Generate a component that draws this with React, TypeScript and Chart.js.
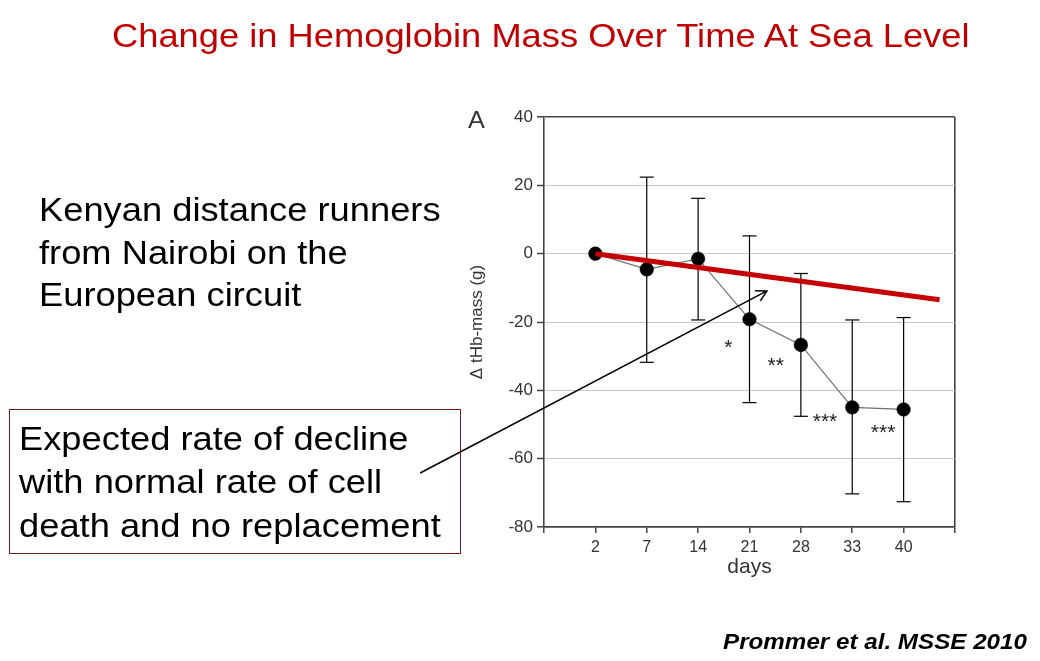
import React, { useEffect, useRef } from 'react';
import { Chart, registerables } from 'chart.js';

Chart.register(...registerables);

// ---- data ----
const dayLabels = ['2', '7', '14', '21', '28', '33', '40'];
const meanChange = [0, -4.6, -1.5, -19.2, -26.7, -45.0, -45.6];
const errUpper: (number | null)[] = [null, 22.4, 16.2, 5.2, -5.8, -19.4, -18.7];
const errLower: (number | null)[] = [null, -31.8, -19.4, -43.6, -47.6, -70.3, -72.6];
const expectedX = [0, 6.7];
const expectedY = [0, -13.5];
const yTicks = [-80, -60, -40, -20, 0, 20, 40];
const starLabels = ['*', '**', '***', '***'];
const starX = [2.59, 3.51, 4.47, 5.6];
const starY = [-25.8, -31.0, -47.5, -50.6];
const arrowX = [-3.41, 3.34];
const arrowY = [-64.2, -10.9];

const FONT = '"Liberation Sans", Arial, Helvetica, sans-serif';
const AXIS = '#444444';

const annotPlugin = {
  id: 'annot',
  afterDraw(chart: any) {
    const { ctx } = chart;
    const xs = chart.scales.x;
    const ys = chart.scales.y;
    ctx.save();
    ctx.fillStyle = '#222';
    ctx.font = `21px ${FONT}`;
    ctx.textAlign = 'center';
    ctx.textBaseline = 'alphabetic';
    starLabels.forEach((s, i) => {
      ctx.fillText(s, xs.getPixelForValue(starX[i]), ys.getPixelForValue(starY[i]) + 12);
    });
    const x0 = xs.getPixelForValue(arrowX[0]);
    const y0 = ys.getPixelForValue(arrowY[0]);
    const x1 = xs.getPixelForValue(arrowX[1]);
    const y1 = ys.getPixelForValue(arrowY[1]);
    ctx.strokeStyle = '#000';
    ctx.lineWidth = 1.5;
    ctx.beginPath();
    ctx.moveTo(x0, y0);
    ctx.lineTo(x1, y1);
    const ang = Math.atan2(y1 - y0, x1 - x0);
    const len = 12;
    const spread = 0.5;
    ctx.moveTo(x1 - len * Math.cos(ang - spread), y1 - len * Math.sin(ang - spread));
    ctx.lineTo(x1, y1);
    ctx.lineTo(x1 - len * Math.cos(ang + spread), y1 - len * Math.sin(ang + spread));
    ctx.stroke();
    ctx.restore();
  },
};

export default function App() {
  const ref = useRef<HTMLCanvasElement>(null);

  useEffect(() => {
    const canvas = ref.current;
    if (!canvas) return;
    const errData: { x: number; y: number | null }[] = [];
    errUpper.forEach((u, i) => {
      if (u === null || errLower[i] === null) return;
      errData.push({ x: i, y: errLower[i] as number }, { x: i, y: u }, { x: i, y: null });
    });

    const chart = new Chart(canvas, {
      type: 'line',
      data: {
        datasets: [
          {
            label: 'Expected decline',
            data: expectedX.map((x, i) => ({ x, y: expectedY[i] })),
            borderColor: '#c40000',
            borderWidth: 5,
            pointRadius: 0,
            borderCapStyle: 'butt',
            order: 0,
          },
          {
            label: 'Δ tHb-mass',
            data: meanChange.map((y, i) => ({ x: i, y })),
            borderColor: '#707070',
            borderWidth: 1.2,
            pointRadius: 6.8,
            pointBackgroundColor: '#000',
            pointBorderColor: '#000',
            pointBorderWidth: 0.5,
            order: 1,
          },
          {
            label: 'SD',
            data: errData as any,
            borderColor: '#000',
            borderWidth: 1.2,
            pointStyle: 'line',
            pointRadius: 7,
            pointBorderColor: '#000',
            pointBorderWidth: 1.2,
            spanGaps: false,
            order: 2,
          },
        ],
      },
      options: {
        animation: false,
        responsive: false,
        devicePixelRatio: 1,
        layout: { padding: { left: 467, top: 117, right: 85, bottom: 81 } },
        plugins: { legend: { display: false }, tooltip: { enabled: false } },
        scales: {
          x: {
            type: 'linear',
            min: -1,
            max: 7,
            afterFit: (s: any) => {
              s.height = 53;
            },
            afterBuildTicks: (s: any) => {
              const t = [];
              for (let v = -1; v <= 7; v++) t.push({ value: v });
              s.ticks = t;
            },
            ticks: {
              autoSkip: false,
              maxRotation: 0,
              padding: 5,
              color: '#333',
              font: { family: FONT, size: 16 },
              callback: (v: any) => {
                const i = Number(v);
                return Number.isInteger(i) && i >= 0 && i < dayLabels.length ? dayLabels[i] : '';
              },
            },
            grid: {
              color: (c: any) => (c.tick && c.tick.value === 7 ? AXIS : 'rgba(0,0,0,0)'),
              lineWidth: 1.6,
              tickColor: AXIS,
              tickLength: 6,
              tickWidth: 1.5,
            },
            border: { color: AXIS, width: 1.6 },
            title: {
              display: true,
              text: 'days',
              color: '#333',
              font: { family: FONT, size: 21 },
              padding: 0,
            },
          },
          y: {
            type: 'linear',
            min: -80,
            max: 40,
            afterFit: (s: any) => {
              s.width = 77;
            },
            afterBuildTicks: (s: any) => {
              s.ticks = yTicks.map((v) => ({ value: v }));
            },
            ticks: {
              padding: 4,
              color: '#333',
              font: { family: FONT, size: 17 },
            },
            grid: {
              color: (c: any) =>
                c.tick && (c.tick.value === 40 || c.tick.value === -80) ? AXIS : '#c8c8c8',
              lineWidth: (c: any) =>
                c.tick && (c.tick.value === 40 || c.tick.value === -80) ? 1.6 : 1,
              tickColor: AXIS,
              tickLength: 7,
              tickWidth: 1.5,
            },
            border: { color: AXIS, width: 1.6 },
            title: {
              display: true,
              text: 'Δ tHb-mass (g)',
              color: '#333',
              font: { family: FONT, size: 17 },
              padding: 0,
            },
          },
        },
      } as any,
      plugins: [annotPlugin],
    });
    return () => chart.destroy();
  }, []);

  const stretch = (extra: React.CSSProperties): React.CSSProperties => ({
    position: 'absolute',
    fontFamily: FONT,
    whiteSpace: 'nowrap',
    transform: 'scaleX(1.1)',
    transformOrigin: 'left top',
    margin: 0,
    ...extra,
  });

  return (
    <div
      style={{
        position: 'absolute',
        left: 0,
        top: 0,
        width: 1040,
        height: 661,
        background: '#fff',
        overflow: 'hidden',
      }}
    >
      <canvas ref={ref} width={1040} height={661} style={{ position: 'absolute', left: 0, top: 0, width: 1040, height: 661 }} />
      <div style={stretch({ left: 112, top: 19.4, fontSize: 33, lineHeight: '33px', color: '#c00000' })}>
        Change in Hemoglobin Mass Over Time At Sea Level
      </div>
      <div style={stretch({ left: 38.5, top: 189, fontSize: 33, lineHeight: '42.5px', color: '#000' })}>
        Kenyan distance runners
        <br />
        from Nairobi on the
        <br />
        European circuit
      </div>
      <div
        style={{
          position: 'absolute',
          left: 9,
          top: 409,
          width: 452,
          height: 145,
          border: '1.5px solid #7a1c1c',
          boxSizing: 'border-box',
        }}
      />
      <div style={stretch({ left: 18.5, top: 417, fontSize: 33, lineHeight: '43.3px', color: '#000' })}>
        Expected rate of decline
        <br />
        with normal rate of cell
        <br />
        death and no replacement
      </div>
      <div style={stretch({ left: 468, top: 108.8, fontSize: 23, lineHeight: '23px', color: '#333' })}>A</div>
      <div
        style={stretch({
          left: 723,
          top: 630.7,
          fontSize: 22,
          lineHeight: '22px',
          fontWeight: 'bold',
          fontStyle: 'italic',
          color: '#000',
        })}
      >
        Prommer et al. MSSE 2010
      </div>
    </div>
  );
}
